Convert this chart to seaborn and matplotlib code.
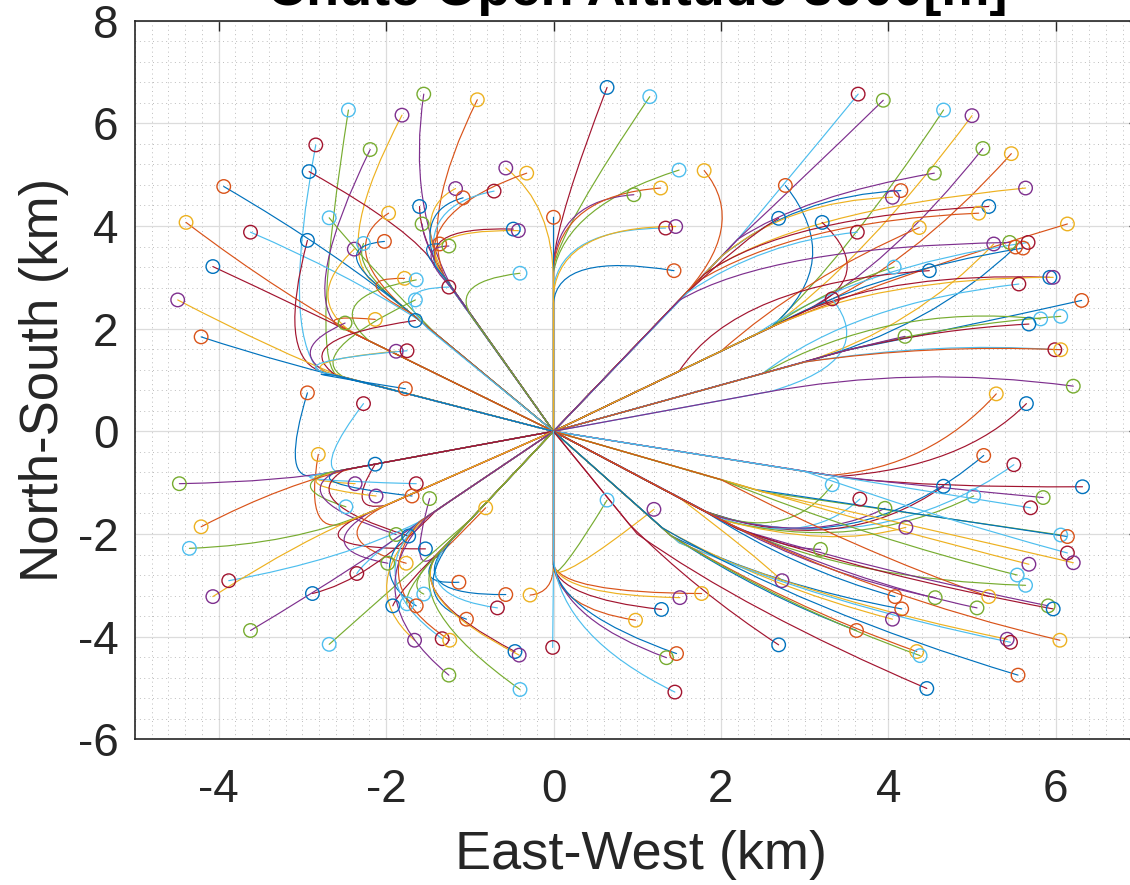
import matplotlib
matplotlib.use("Agg")
import matplotlib.pyplot as plt
from matplotlib.path import Path
from matplotlib.patches import PathPatch
from matplotlib.ticker import MultipleLocator
import pandas as pd
import seaborn as sns

# MATLAB default colour order (line i uses colour k, its landing marker colour k+1)
color_order = ["blue", "orange", "yellow", "purple", "green", "lightblue", "darkred"]
color_hex = {"blue": "#0072BD", "orange": "#D95319", "yellow": "#EDB120",
             "purple": "#7E2F8E", "green": "#77AC30", "lightblue": "#4DBEEE",
             "darkred": "#A2142F"}

x_ticks = [-4, -2, 0, 2, 4, 6]
y_ticks = [-6, -4, -2, 0, 2, 4, 6, 8]
title_text = "Chute Open Altitude 3000[m]"
x_label = "East-West (km)"
y_label = "North-South (km)"

# Each track: landing x, landing y, chute-open knee x, y, curve control x, y, landing-marker colour
upper_right = [
    (0.64, 6.70, 0.0, 3.3, 0.05, 4.2, "blue"),
    (1.15, 6.52, 0.0, 3.2, 0.10, 4.0, "lightblue"),
    (1.50, 5.09, 0.0, 3.1, 0.15, 4.4, "lightblue"),
    (1.80, 5.08, 1.5, 2.55, 2.35, 4.0, "yellow"),
    (0.96, 4.61, 0.0, 3.2, 0.05, 4.5, "green"),
    (1.28, 4.74, 0.0, 3.2, 0.10, 4.6, "yellow"),
    (0.00, 4.17, 0.0, 2.0, 0.0, 3.0, "orange"),
    (1.34, 3.96, 0.0, 2.8, 0.10, 3.95, "darkred"),
    (1.46, 3.99, 0.0, 2.7, 0.10, 4.0, "purple"),
    (1.44, 3.13, 0.0, 2.5, 0.05, 3.5, "orange"),
    (3.64, 6.57, 2.2, 3.74, 2.8, 4.9, "darkred"),
    (3.94, 6.45, 2.2, 3.74, 2.9, 4.8, "green"),
    (4.66, 6.26, 2.6, 2.03, 3.5, 3.4, "lightblue"),
    (5.00, 6.15, 2.6, 2.03, 3.7, 3.3, "purple"),
    (5.13, 5.51, 3.0, 2.34, 4.0, 3.2, "green"),
    (5.47, 5.41, 3.0, 2.34, 4.2, 3.1, "yellow"),
    (4.55, 5.03, 2.2, 3.74, 3.0, 4.6, "green"),
    (2.77, 4.79, 2.6, 2.03, 3.5, 3.3, "orange"),
    (4.15, 4.69, 2.0, 3.40, 2.9, 4.6, "orange"),
    (4.05, 4.56, 2.0, 3.40, 2.8, 4.5, "purple"),
    (5.64, 4.74, 1.8, 3.06, 2.9, 4.3, "purple"),
    (5.20, 4.38, 1.8, 3.06, 2.8, 4.2, "blue"),
    (5.08, 4.25, 1.7, 2.90, 2.9, 4.1, "yellow"),
    (2.69, 4.15, 1.5, 2.55, 2.3, 3.8, "blue"),
    (3.21, 4.07, 3.0, 2.34, 3.9, 3.0, "blue"),
    (3.63, 3.88, 1.6, 2.70, 2.5, 3.7, "darkred"),
    (4.37, 3.97, 2.0, 1.56, 3.0, 3.0, "yellow"),
    (6.14, 4.04, 2.6, 2.03, 4.0, 3.0, "yellow"),
    (5.26, 3.65, 3.0, 1.35, 4.3, 2.0, "purple"),
    (5.45, 3.68, 1.5, 2.55, 2.6, 3.6, "green"),
    (5.52, 3.59, 3.0, 1.35, 4.5, 2.0, "orange"),
    (5.61, 3.57, 2.5, 1.95, 3.8, 3.1, "orange"),
    (5.67, 3.68, 2.4, 1.87, 3.6, 3.2, "darkred"),
    (4.07, 3.20, 2.6, 2.03, 3.3, 2.8, "lightblue"),
    (4.49, 3.13, 1.5, 1.17, 2.2, 2.9, "blue"),
    (5.93, 3.00, 3.0, 2.34, 4.1, 3.1, "blue"),
    (5.97, 3.00, 2.6, 2.03, 3.9, 3.0, "purple"),
    (5.56, 2.87, 2.5, 1.13, 3.6, 2.5, "darkred"),
    (3.33, 2.58, 2.6, 0.78, 3.9, 1.4, "darkred"),
    (6.31, 2.55, 3.5, 1.58, 4.8, 2.0, "orange"),
    (5.82, 2.19, 2.5, 1.13, 4.0, 2.5, "lightblue"),
    (6.06, 2.24, 3.5, 1.58, 4.8, 2.1, "lightblue"),
    (5.68, 2.09, 3.5, 1.58, 4.6, 2.0, "blue"),
    (4.20, 1.85, 2.5, 1.13, 3.5, 1.6, "green"),
    (5.99, 1.59, 3.0, 1.35, 4.6, 1.75, "darkred"),
    (6.06, 1.59, 3.0, 1.35, 4.5, 1.7, "yellow"),
    (6.21, 0.88, 2.5, 0.75, 4.3, 1.3, "green"),
    (5.29, 0.73, 3.3, -0.86, 4.5, -0.7, "yellow"),
    (5.65, 0.54, 3.4, -0.88, 4.9, -0.7, "blue"),
]

upper_left = [
    (-1.55, 6.57, -1.2, 2.76, -1.75, 4.4, "green"),
    (-0.91, 6.46, -1.3, 3.0, -1.6, 4.2, "yellow"),
    (-2.45, 6.26, -2.6, 1.10, -2.9, 1.6, "lightblue"),
    (-1.81, 6.16, -2.2, 2.97, -2.6, 3.7, "purple"),
    (-2.84, 5.58, -2.8, 1.18, -3.25, 2.0, "darkred"),
    (-2.19, 5.49, -2.6, 2.08, -3.0, 2.8, "green"),
    (-2.92, 5.06, -1.4, 3.2, -1.65, 3.9, "blue"),
    (-0.57, 5.13, 0.0, 2.9, 0.0, 4.4, "purple"),
    (-0.32, 5.03, -1.4, 3.2, -1.6, 4.3, "yellow"),
    (-3.94, 4.77, -1.6, 2.16, -2.6, 3.5, "orange"),
    (-1.17, 4.73, -1.3, 3.0, -1.7, 4.3, "purple"),
    (-1.08, 4.55, -1.4, 3.2, -1.65, 4.3, "orange"),
    (-0.71, 4.68, -1.4, 3.2, -1.6, 4.4, "darkred"),
    (-1.60, 4.38, -1.3, 3.0, -1.6, 3.8, "blue"),
    (-1.97, 4.25, -1.8, 2.43, -2.6, 3.6, "yellow"),
    (-2.68, 4.16, -1.4, 1.89, -2.2, 3.2, "lightblue"),
    (-1.57, 4.04, -1.2, 2.76, -1.55, 3.6, "green"),
    (-4.39, 4.07, -2.2, 1.76, -3.2, 2.6, "yellow"),
    (-0.48, 3.94, -1.3, 3.0, -1.75, 4.0, "blue"),
    (-0.42, 3.91, -1.3, 3.0, -1.75, 3.95, "purple"),
    (-3.62, 3.88, -1.6, 2.16, -2.5, 3.1, "darkred"),
    (-2.94, 3.72, -2.8, 1.18, -3.3, 1.5, "blue"),
    (-2.38, 3.55, -2.4, 1.92, -3.0, 2.6, "purple"),
    (-2.27, 3.66, -1.8, 2.43, -2.4, 3.2, "lightblue"),
    (-2.02, 3.70, -2.0, 2.7, -2.7, 3.6, "orange"),
    (-1.36, 3.65, -1.3, 3.0, -1.7, 3.7, "orange"),
    (-1.25, 3.61, -1.2, 2.76, -1.7, 3.6, "green"),
    (-4.07, 3.21, -2.0, 1.6, -3.0, 2.4, "blue"),
    (-0.40, 3.08, -0.9, 2.07, -1.35, 2.9, "lightblue"),
    (-1.78, 2.98, -1.7, 2.3, -2.5, 3.0, "yellow"),
    (-1.64, 2.95, -2.2, 1.76, -2.8, 2.6, "lightblue"),
    (-1.25, 2.81, -1.5, 2.0, -2.0, 2.8, "darkred"),
    (-1.65, 2.56, -2.5, 1.05, -3.0, 1.5, "lightblue"),
    (-4.49, 2.56, -2.5, 1.05, -3.3, 1.55, "purple"),
    (-2.49, 2.11, -2.7, 1.13, -3.2, 1.6, "green"),
    (-2.13, 2.18, -2.4, 1.92, -2.95, 2.3, "yellow"),
    (-1.65, 2.16, -2.6, 1.09, -3.2, 1.8, "blue"),
    (-4.21, 1.84, -2.0, 0.84, -3.2, 1.3, "orange"),
    (-1.88, 1.56, -2.6, 1.09, -3.2, 1.35, "purple"),
    (-1.75, 1.57, -2.7, 1.13, -3.25, 1.35, "darkred"),
    (-1.77, 0.83, -2.6, 1.09, -3.2, 1.2, "orange"),
    (-2.94, 0.75, -2.9, -0.87, -3.25, -0.9, "orange"),
    (-2.27, 0.54, -2.6, -0.78, -2.8, -0.6, "darkred"),
]

lower_left = [
    (-2.81, -0.45, -2.4, -1.73, -3.0, -2.2, "yellow"),
    (-2.13, -0.64, -2.0, -1.44, -2.5, -1.6, "blue"),
    (-4.47, -1.02, -2.5, -0.75, -3.2, -0.98, "green"),
    (-2.37, -1.02, -2.6, -0.78, -3.2, -0.95, "purple"),
    (-1.64, -1.02, -2.8, -0.84, -3.3, -0.95, "darkred"),
    (-2.12, -1.26, -2.6, -0.78, -3.25, -1.05, "purple"),
    (-1.69, -1.26, -2.5, -0.75, -3.1, -1.0, "orange"),
    (-1.48, -1.31, -1.4, -2.42, -1.75, -2.9, "green"),
    (-2.48, -1.47, -2.7, -0.81, -3.2, -1.1, "lightblue"),
    (-0.81, -1.49, -1.3, -2.25, -1.65, -2.9, "yellow"),
    (-4.21, -1.86, -2.3, -0.69, -3.2, -1.0, "yellow"),
    (-1.88, -2.01, -2.6, -0.78, -3.2, -1.3, "green"),
    (-1.73, -2.04, -2.5, -0.75, -3.1, -1.35, "blue"),
    (-4.35, -2.28, -2.2, -1.58, -3.1, -2.2, "lightblue"),
    (-1.53, -2.29, -2.4, -1.73, -3.0, -2.3, "blue"),
    (-1.98, -2.57, -2.2, -1.58, -2.9, -2.3, "green"),
    (-1.76, -2.57, -2.0, -1.44, -2.8, -2.1, "yellow"),
    (-2.35, -2.77, -1.5, -1.65, -2.2, -2.4, "darkred"),
    (-3.88, -2.91, -1.6, -1.76, -2.5, -2.5, "darkred"),
    (-1.13, -2.94, -1.3, -2.25, -1.75, -3.0, "orange"),
    (-4.07, -3.22, -2.2, -1.58, -3.0, -2.1, "purple"),
    (-2.88, -3.16, -1.4, -1.54, -2.2, -2.9, "blue"),
    (-1.55, -3.17, -1.3, -2.25, -1.8, -3.0, "lightblue"),
    (-1.92, -3.40, -1.2, -2.08, -1.85, -3.1, "blue"),
    (-1.75, -3.36, -1.2, -2.08, -1.8, -3.05, "lightblue"),
    (-1.64, -3.40, -1.6, -1.76, -2.3, -2.7, "orange"),
    (-0.57, -3.18, -1.3, -2.25, -1.75, -3.2, "orange"),
    (-0.28, -3.19, 0.0, -2.6, 0.0, -3.15, "yellow"),
    (-0.67, -3.44, -1.3, -2.25, -1.7, -3.2, "darkred"),
    (-1.04, -3.66, -1.2, -2.08, -1.75, -3.25, "orange"),
    (-3.62, -3.88, -1.2, -1.32, -2.3, -2.6, "green"),
    (-2.68, -4.15, -1.0, -1.73, -1.75, -2.8, "lightblue"),
    (-1.66, -4.07, -1.5, -1.65, -2.4, -3.0, "purple"),
    (-1.33, -4.04, -1.6, -1.76, -2.3, -2.9, "darkred"),
    (-1.24, -4.07, -1.6, -1.76, -2.25, -3.0, "yellow"),
    (-0.46, -4.29, -1.4, -2.42, -1.75, -3.2, "blue"),
    (-0.41, -4.36, -1.4, -2.42, -1.75, -3.25, "purple"),
    (-0.01, -4.21, 0.0, -2.0, 0.0, -3.0, "darkred"),
    (-1.25, -4.75, -1.5, -1.65, -2.4, -3.2, "green"),
    (-0.40, -5.03, -1.4, -2.42, -1.8, -3.4, "lightblue"),
]

lower_right = [
    (5.14, -0.47, 1.8, -1.55, 3.6, -2.6, "orange"),
    (5.50, -0.65, 1.9, -1.63, 3.9, -2.5, "darkred"),
    (4.66, -1.07, 1.8, -1.55, 3.4, -2.5, "blue"),
    (6.32, -1.08, 3.5, -0.91, 4.6, -1.1, "blue"),
    (3.33, -1.04, 1.8, -1.55, 2.8, -2.2, "lightblue"),
    (3.66, -1.32, 1.9, -1.63, 3.0, -2.3, "darkred"),
    (5.02, -1.26, 2.0, -1.72, 3.6, -2.4, "lightblue"),
    (5.85, -1.29, 3.4, -0.88, 4.6, -1.1, "green"),
    (5.70, -1.49, 3.0, -0.78, 4.4, -1.15, "darkred"),
    (3.96, -1.50, 1.9, -1.63, 3.1, -2.2, "green"),
    (0.64, -1.34, 0.0, -2.7, 0.02, -3.0, "lightblue"),
    (1.20, -1.52, 0.0, -2.7, 0.05, -3.0, "purple"),
    (4.21, -1.87, 2.0, -1.72, 3.3, -2.3, "purple"),
    (6.06, -2.02, 2.5, -1.18, 4.3, -1.6, "lightblue"),
    (6.14, -2.05, 2.4, -1.13, 4.3, -1.6, "orange"),
    (3.19, -2.30, 1.6, -1.38, 2.6, -2.3, "green"),
    (6.14, -2.37, 3.0, -0.78, 4.4, -1.6, "darkred"),
    (6.21, -2.56, 2.5, -1.18, 4.2, -1.8, "purple"),
    (5.68, -2.59, 2.2, -1.03, 4.0, -1.9, "purple"),
    (5.54, -2.80, 2.0, -0.94, 3.8, -2.1, "lightblue"),
    (5.64, -3.00, 2.2, -1.90, 3.6, -2.9, "lightblue"),
    (2.73, -2.91, 1.5, -1.29, 2.4, -2.4, "purple"),
    (4.56, -3.24, 2.0, -1.72, 3.2, -2.8, "green"),
    (5.20, -3.22, 2.0, -0.94, 3.6, -2.3, "yellow"),
    (4.08, -3.22, 1.8, -1.55, 2.9, -2.7, "orange"),
    (4.16, -3.46, 1.4, -2.03, 2.6, -3.0, "orange"),
    (5.06, -3.44, 2.1, -1.80, 3.5, -2.9, "green"),
    (5.91, -3.40, 2.2, -1.90, 3.8, -2.7, "green"),
    (5.97, -3.46, 2.2, -1.90, 3.8, -2.8, "blue"),
    (4.05, -3.66, 1.3, -1.88, 2.5, -3.0, "purple"),
    (1.77, -3.16, 0.0, -2.6, 0.1, -3.15, "yellow"),
    (1.51, -3.24, 0.0, -2.6, 0.1, -3.2, "purple"),
    (1.29, -3.47, 0.0, -2.6, 0.05, -3.25, "blue"),
    (0.98, -3.68, 0.0, -2.6, 0.05, -3.45, "yellow"),
    (3.62, -3.88, 1.4, -2.03, 2.5, -3.2, "orange"),
    (2.69, -4.16, 0.9, -1.80, 1.7, -3.1, "blue"),
    (6.05, -4.07, 2.0, -1.72, 3.8, -3.2, "yellow"),
    (5.42, -4.05, 1.5, -2.17, 3.2, -3.3, "purple"),
    (5.46, -4.11, 1.5, -2.17, 3.2, -3.35, "darkred"),
    (4.34, -4.29, 1.4, -2.03, 2.8, -3.4, "yellow"),
    (4.38, -4.37, 1.4, -2.03, 2.8, -3.45, "lightblue"),
    (1.35, -4.41, 0.0, -2.6, 0.15, -3.7, "green"),
    (1.47, -4.33, 0.0, -2.6, 0.1, -3.55, "orange"),
    (5.55, -4.75, 1.3, -1.88, 3.0, -3.5, "orange"),
    (4.46, -5.01, 1.0, -2.0, 2.3, -3.5, "blue"),
    (1.45, -5.08, 0.0, -2.5, 0.1, -4.0, "darkred"),
]

tracks = pd.DataFrame(upper_right + upper_left + lower_left + lower_right,
                      columns=["x", "y", "knee_x", "knee_y", "ctrl_x", "ctrl_y", "marker_color"])
tracks["line_color"] = [color_order[(color_order.index(c) - 1) % 7] for c in tracks["marker_color"]]

sns.set_theme(style="white")
plt.rcParams["font.family"] = ["Liberation Sans", "DejaVu Sans"]
ink = "#262626"

fig = plt.figure(figsize=(11.3, 8.85), dpi=100)
W, H = 1130.0, 885.0
ax_left, ax_right, ax_top, ax_bottom = 135.0, 1139.4, 20.7, 739.3
ax = fig.add_axes([ax_left / W, 1 - ax_bottom / H, (ax_right - ax_left) / W, (ax_bottom - ax_top) / H])

# Trajectories: straight free-fall leg to the knee, then a smooth drift curve to the landing point
for r in tracks.itertuples():
    path = Path([(0, 0), (r.knee_x, r.knee_y), (r.ctrl_x, r.ctrl_y), (r.x, r.y)],
                [Path.MOVETO, Path.LINETO, Path.CURVE3, Path.CURVE3])
    ax.add_patch(PathPatch(path, fill=False, edgecolor=color_hex[r.line_color],
                           lw=0.85, zorder=2, capstyle="round", joinstyle="round"))

sns.scatterplot(data=tracks, x="x", y="y", hue="marker_color", palette=color_hex,
                marker="o", s=95, linewidth=1.0, legend=False, ax=ax, zorder=3)
pts = ax.collections[-1]
fc = pts.get_facecolors()
pts.set_edgecolors(fc)
pts.set_facecolors("none")

ax.set_xlim(-5, 7)
ax.set_ylim(-6, 8)
ax.set_xticks(x_ticks)
ax.set_yticks(y_ticks)
ax.set_xticklabels([str(t) for t in x_ticks])
ax.set_yticklabels([str(t) for t in y_ticks])
ax.xaxis.set_minor_locator(MultipleLocator(0.2))
ax.yaxis.set_minor_locator(MultipleLocator(0.4))

ax.grid(True, which="major", color="#dcdcdc", lw=0.9, ls="-", zorder=0)
ax.grid(True, which="minor", color="#bdbdbd", lw=0.7, ls=(0, (1, 3.5)), zorder=0)
ax.set_axisbelow(True)

for s in ax.spines.values():
    s.set_color(ink)
    s.set_linewidth(1.2)

ax.tick_params(which="major", direction="in", length=7, width=1.0, color=ink,
               top=True, right=True, labelcolor=ink, labelsize=33)
ax.tick_params(which="minor", length=0)
ax.tick_params(axis="x", pad=21)
ax.tick_params(axis="y", pad=12)

ax.set_xlabel(x_label, fontsize=39, color=ink)
ax.xaxis.set_label_coords((641 - ax_left) / (ax_right - ax_left), -(869 - ax_bottom) / (ax_bottom - ax_top))
ax.xaxis.label.set_va("baseline")
ax.set_ylabel(y_label, fontsize=38, color=ink)
ax.yaxis.set_label_coords(-(ax_left - 58) / (ax_right - ax_left), 0.5)
ax.yaxis.label.set_va("baseline")

fig.text((ax_left + ax_right) / 2 / W, 1 - 4.5 / H, title_text, ha="center", va="baseline",
         fontsize=39, fontweight="bold", color="black")

fig.savefig("out.png", dpi=100)
